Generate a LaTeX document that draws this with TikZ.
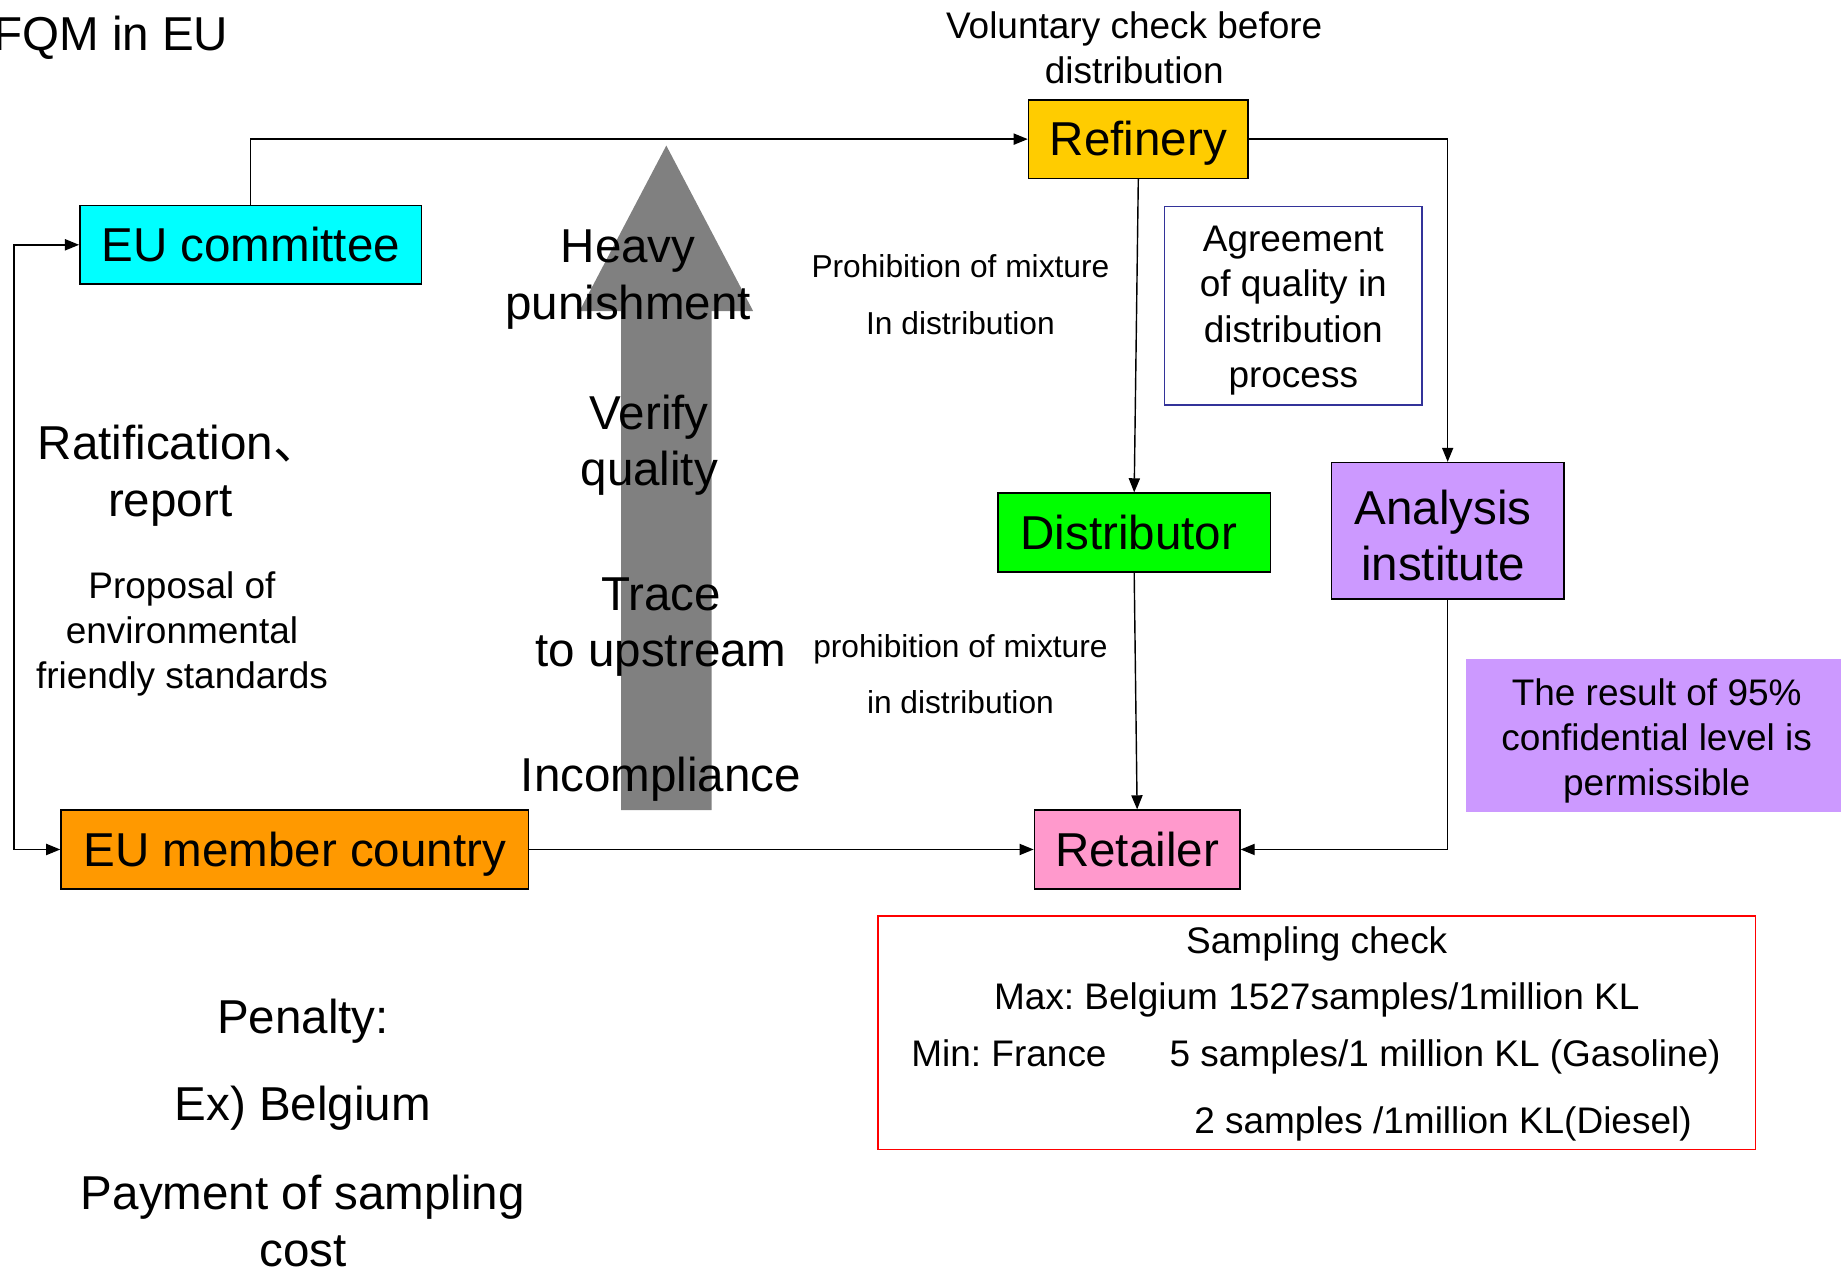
\documentclass[tikz,border=0pt]{standalone}
\usepackage{fontspec}
\setmainfont{Liberation Sans}
\newfontfamily\cjkfont{Noto Sans CJK SC}
\usetikzlibrary{arrows.meta}
\definecolor{eucyan}{HTML}{00FFFF}
\definecolor{refcol}{HTML}{FFCC00}
\definecolor{distcol}{HTML}{00FF00}
\definecolor{anacol}{HTML}{CC99FF}
\definecolor{retcol}{HTML}{FF99CC}
\definecolor{memcol}{HTML}{FF9900}
\definecolor{arrowgray}{HTML}{808080}
\definecolor{agrblue}{HTML}{333399}
\frenchspacing
\begin{document}
\begin{tikzpicture}[x=1pt,y=-1pt,
  box/.style={draw=black,line width=1.3pt,inner sep=0pt,font=\fontsize{40.5}{49}\selectfont,align=center},
  onebox/.style={box,text height=36pt,text depth=7.4pt},
  conn/.style={line width=1.2pt,-{Triangle[length=12pt,width=9.5pt]}},
  bothconn/.style={line width=1.2pt,{Triangle[length=12pt,width=9.5pt]}-{Triangle[length=12pt,width=9.5pt]}},
  big/.style={font=\fontsize{40.5}{48}\selectfont,align=center,inner sep=0pt},
  mid/.style={font=\fontsize{31.5}{38.5}\selectfont,align=center,inner sep=0pt},
  small/.style={font=\fontsize{27}{48}\selectfont,align=center,inner sep=0pt}]
\useasboundingbox (0,0) rectangle (1568,1079);

% big gray up arrow
\fill[arrowgray] (529,690) -- (529,265) -- (493.5,265) -- (567.5,124) -- (641.5,265) -- (606,265) -- (606,690) -- cycle;

% title
\node[big,anchor=base west] (title) at (-6,43) {FQM in EU};

% boxes
\node[onebox,fill=eucyan,minimum width=291pt,minimum height=67pt] (ec) at (213.5,208.5) {EU committee};
\node[onebox,fill=refcol,minimum width=187pt,minimum height=67pt] (ref) at (969.5,118.5) {Refinery};
\node[onebox,fill=distcol,minimum width=232pt,minimum height=67pt] (dist) at (966,453.5) {\hspace*{-9pt}Distributor};
\node[box,fill=anacol,minimum width=198pt,minimum height=116pt] (ana) at (1233,452) {};
\node[big] (anatext) at (1229,456) {Analysis\\institute};
\node[onebox,fill=retcol,minimum width=175pt,minimum height=67pt] (ret) at (968.5,723.5) {Retailer};
\node[onebox,fill=memcol,minimum width=398pt,minimum height=67pt] (em) at (251,723.5) {EU member country};
\node[mid,draw=agrblue,line width=1.2pt,fill=white,minimum width=219pt,minimum height=169pt] (agr) at (1101.5,260.5) {};
\node[mid] (agrtext) at (1101.5,264.5) {Agreement\\of quality in\\distribution\\process};
\node[mid,fill=anacol,minimum width=331pt,minimum height=131pt] (res) at (1414.5,626.5) {};
\node[mid] (restext) at (1411,631) {The result of 95\%\\confidential level is\\permissible};
\node[draw=red,line width=1.3pt,inner sep=0pt,minimum width=747pt,minimum height=199pt] (sc) at (1121.5,879.5) {};

% texts in red box
\node[mid,anchor=base] (sc1) at (1121.5,812) {Sampling check};
\node[mid,anchor=base] (sc2) at (1121.5,860) {Max: Belgium 1527samples/1million KL};
\node[mid,anchor=base west] (sc3a) at (776,908) {Min: France};
\node[mid,anchor=base west] (sc3b) at (996,908) {5 samples/1 million KL (Gasoline)};
\node[mid,anchor=base west] (sc4) at (1017,965) {2 samples /1million KL(Diesel)};

% top label
\node[mid] (vol) at (966,41) {Voluntary check before\\distribution};

% arrow texts
\node[big] (heavy) at (535,238) {Heavy\\punishment};
\node[big] (verify) at (553,379) {Verify\\quality};
\node[big] (trace) at (563,534) {Trace\\to upstream};
\node[big,anchor=base] (incomp) at (563,674) {Incompliance};

% prohibition labels
\node[small] (proh1) at (818,251) {Prohibition of mixture\\In distribution};
\node[small] (proh2) at (818,574) {prohibition of mixture\\in distribution};

% left labels
\node[big,anchor=base west] (rat1) at (32,391) {Ratification{\cjkfont 、}};
\node[big,anchor=base] (rat2) at (145,440) {report};
\node[mid] (prop) at (155,540) {Proposal of\\environmental\\friendly standards};

% penalty
\node[big,anchor=base] (pen1) at (258,880) {Penalty:};
\node[big,anchor=base] (pen2) at (258,954) {Ex) Belgium};
\node[big] (pen3) at (258,1040) {Payment of sampling\\cost};

% connectors
\draw[conn] (ec.north) |- (ref.west);
\draw[conn] (ref.east) -| (ana.north);
\draw[conn] (ref.south) -- (dist.north);
\draw[conn] (dist.south) -- (ret.north);
\draw[conn] (ana.south) |- (ret.east);
\draw[conn] (em.east) -- (ret.west);
\coordinate (lp) at (12,466);
\draw[bothconn] (ec.west) -| (lp) |- (em.west);
\end{tikzpicture}
\end{document}
